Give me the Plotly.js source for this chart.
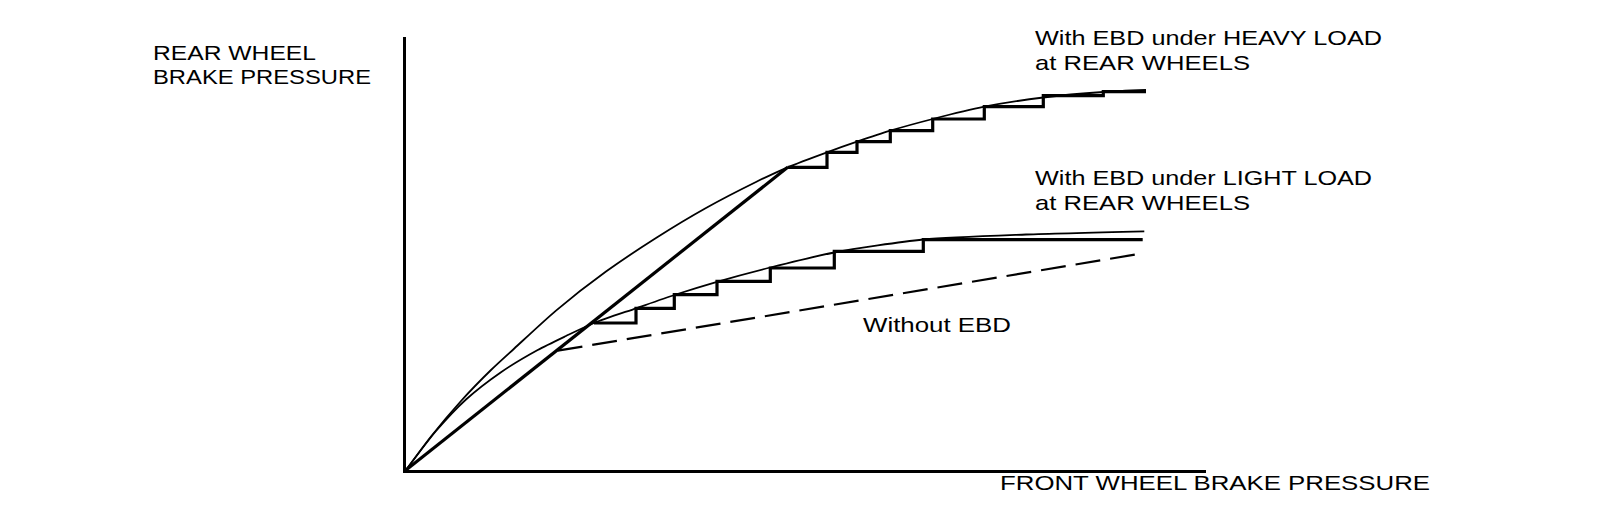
<!DOCTYPE html>
<html>
<head>
<meta charset="utf-8">
<script src="https://cdn.plot.ly/plotly-3.0.1.min.js"></script>
<style>
  html, body { margin: 0; padding: 0; background: #fff; }
  #chart { width: 1600px; height: 506px; }
</style>
</head>
<body>
<div id="chart"></div>
<script>
// ---- Data (units; origin at the axes corner) ----
// Straight thick line shared by all systems (origin -> heavy-load switch point)
const baseLineX = [0, 381.7];
const baseLineY = [0, 302.7];

// Heavy-load EBD stepped control (thick)
const heavyStepX = [381.7, 421, 451, 484.3, 526.7, 578.3, 637.3, 697.3, 740];
const heavyStepY = [302.7, 317.7, 328.3, 339.3, 351, 363.3, 374.3, 378.3, 378.3];

// Heavy-load ideal distribution curve (thin)
const heavyCurveX = [0, 25, 55, 85, 108.3, 150, 200, 250, 300, 350, 381.7, 421, 451, 484.3, 526.7, 578.3, 637.3, 697.3, 740];
const heavyCurveY = [0, 33.5, 69, 100, 121.5, 159.4, 198.4, 232, 262, 288, 302.7, 317.7, 328.3, 339.3, 351, 363.3, 372.5, 378, 380];

// Light-load EBD stepped control (thick)
const lightStepX = [188, 230, 268.3, 311, 364.3, 428.3, 517.3, 736.7];
const lightStepY = [147, 161.7, 175.3, 188.7, 202, 218.7, 230.3, 230.3];

// Light-load ideal distribution curve (thin)
const lightCurveX = [0, 30, 60, 95, 131.7, 160, 188, 230, 268.3, 311, 364.3, 428.3, 517.3, 620, 738.3];
const lightCurveY = [0, 39, 70.5, 97.8, 120, 134, 147, 161.7, 175, 188.2, 202.5, 217.5, 230.5, 235.5, 238.7];

// Without EBD (proportioning valve, dashed)
const noEbdX = [151.7, 736.7];
const noEbdY = [119.3, 216.7];

// Text
const yLabelLines = ["REAR WHEEL", "BRAKE PRESSURE"];
const xLabel = "FRONT WHEEL BRAKE PRESSURE";
const heavyLabelLines = ["With EBD under HEAVY LOAD", "at REAR WHEELS"];
const lightLabelLines = ["With EBD under LIGHT LOAD", "at REAR WHEELS"];
const noEbdLabel = "Without EBD";

// ---- Layout geometry ----
const W = 1600, H = 506;
const L = 406, T = 37, PW = 800, PH = 433;
const px = x => (x - L) / PW;          // page pixel -> paper x
const py = y => (T + PH - y) / PH;     // page pixel -> paper y

const thick = 3.2, thin = 1.8;
const black = '#000';

const traces = [
  {x: heavyCurveX, y: heavyCurveY, mode: 'lines', line: {color: black, width: thin, shape: 'spline', smoothing: 0.7}, name: 'Heavy ideal'},
  {x: lightCurveX, y: lightCurveY, mode: 'lines', line: {color: black, width: thin, shape: 'spline', smoothing: 0.7}, name: 'Light ideal'},
  {x: noEbdX, y: noEbdY, mode: 'lines', line: {color: black, width: 2.2, dash: '25px,10px'}, name: 'Without EBD'},
  {x: baseLineX, y: baseLineY, mode: 'lines', line: {color: black, width: thick}, name: 'Base'},
  {x: heavyStepX, y: heavyStepY, mode: 'lines', line: {color: black, width: thick, shape: 'hv'}, name: 'Heavy EBD'},
  {x: lightStepX, y: lightStepY, mode: 'lines', line: {color: black, width: thick, shape: 'hv'}, name: 'Light EBD'}
];

const font = {family: 'Liberation Sans, Arial, sans-serif', size: 21, color: black};
const textWidths = [];   // rendered widths of each label (the reference glyphs are wide)
function ann(text, xPix, yPix, size, widthPix) {
  textWidths.push(widthPix);
  return {text: text, xref: 'paper', yref: 'paper', x: px(xPix), y: py(yPix),
          xanchor: 'left', yanchor: 'middle', align: 'left', showarrow: false,
          font: Object.assign({}, font, {size: size})};
}

const annotations = [
  ann(yLabelLines[0], 151, 53, 20, 163),
  ann(yLabelLines[1], 151, 77, 20, 218),
  ann(heavyLabelLines[0], 1033, 37.5, 21, 347),
  ann(heavyLabelLines[1], 1033, 62.5, 21, 215),
  ann(lightLabelLines[0], 1033, 177.5, 21, 337),
  ann(lightLabelLines[1], 1033, 202.5, 21, 215),
  ann(noEbdLabel, 861, 325.3, 20, 148),
  ann(xLabel, 998, 482.5, 21, 430)
];

const axisCommon = {showgrid: false, zeroline: false, showticklabels: false, ticks: '',
                    showline: true, linewidth: 3, linecolor: black, fixedrange: true};

const layout = {
  width: W, height: H,
  margin: {l: L, r: W - L - PW, t: T, b: H - T - PH, pad: 0},
  paper_bgcolor: '#fff', plot_bgcolor: '#fff',
  showlegend: false,
  xaxis: Object.assign({range: [0, PW]}, axisCommon),
  yaxis: Object.assign({range: [0, PH]}, axisCommon),
  annotations: annotations
};

Plotly.newPlot('chart', traces, layout, {displayModeBar: false, staticPlot: true}).then(gd => {
  // stretch each label horizontally to the width it has in the reference
  gd.querySelectorAll('g.annotation').forEach(g => {
    const i = +g.getAttribute('data-index');
    const t = g.querySelector('text.annotation-text');
    if (t && textWidths[i]) {
      t.setAttribute('textLength', textWidths[i]);
      t.setAttribute('lengthAdjust', 'spacingAndGlyphs');
    }
  });
});
</script>
</body>
</html>
